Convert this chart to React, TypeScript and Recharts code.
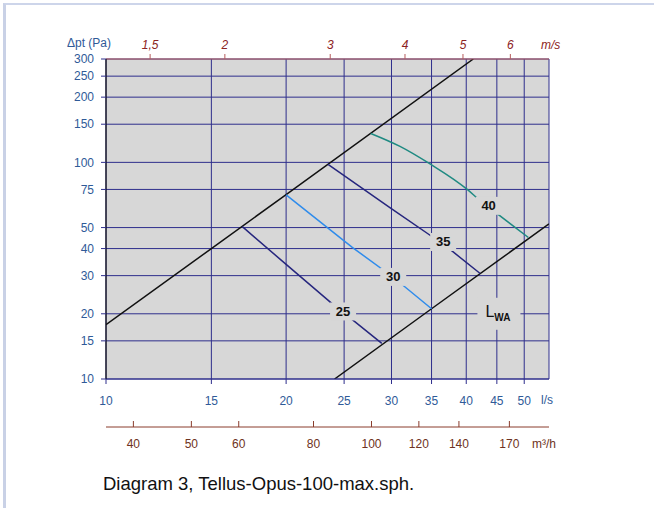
import {
  CartesianGrid,
  Label,
  Line,
  LineChart,
  ReferenceDot,
  XAxis,
  YAxis,
} from "recharts";

const FONT = '"Liberation Sans", Arial, Helvetica, sans-serif';
const PLOT_BG = "#d7d7d7";
const GRID = "#2e2e8c";
const BLUE_TEXT = "#2f5a98";
const RED_TEXT = "#8c2222";
const RED_LINE = "#b65c5c";
const BROWN = "#8a3c2c";
const BROWN_TEXT = "#6e3222";

// duct cross-section, l/s per m/s
const DUCT_AREA = 7.9;
// l/s -> m³/h
const M3H_PER_LS = 3.6;

const FLOW_TICKS = [10, 15, 20, 25, 30, 35, 40, 45, 50];
const PRESSURE_TICKS = [10, 15, 20, 30, 40, 50, 75, 100, 150, 200, 250, 300];
const VELOCITY_TICKS = [1.5, 2, 3, 4, 5, 6];
const VOLUME_TICKS = [40, 50, 60, 80, 100, 120, 140, 170];

// system curves, q in l/s and p in Pa
const systemHigh = [
  { q: 10, p: 17.8 },
  { q: 15, p: 40 },
  { q: 20, p: 71 },
  { q: 41.1, p: 300 },
];
const systemLow = [
  { q: 24.1, p: 10 },
  { q: 35, p: 21.1 },
  { q: 55, p: 52 },
];

// sound power levels L_WA, dB(A)
const lwa25 = [
  { q: 16.9, p: 50.5 },
  { q: 20, p: 33.8 },
  { q: 24, p: 22 },
  { q: 25.8, p: 18.8 },
  { q: 28.9, p: 14.6 },
];
const lwa30 = [
  { q: 20, p: 70.8 },
  { q: 25.8, p: 40.5 },
  { q: 30.2, p: 29.5 },
  { q: 35, p: 21.1 },
];
const lwa35 = [
  { q: 23.5, p: 98 },
  { q: 29.9, p: 61.5 },
  { q: 35, p: 45.6 },
  { q: 37.9, p: 38.9 },
  { q: 42.2, p: 30.7 },
];
const lwa40 = [
  { q: 27.7, p: 136 },
  { q: 31, p: 118.5 },
  { q: 34.8, p: 98.3 },
  { q: 40.2, p: 74.8 },
  { q: 42, p: 67.3 },
  { q: 45.1, p: 57.8 },
  { q: 50.8, p: 45 },
];

const curveTags = [
  { text: "25", q: 24.9, p: 20.5 },
  { text: "30", q: 30.2, p: 29.6 },
  { text: "35", q: 36.6, p: 42.9 },
  { text: "40", q: 43.6, p: 63 },
];

const CurveTag = ({ cx, cy, text }: any) => (
  <g>
    <rect x={cx - 13} y={cy - 9} width={26} height={18} fill={PLOT_BG} />
    <text
      x={cx}
      y={cy + 4.5}
      textAnchor="middle"
      fontFamily={FONT}
      fontSize={13}
      fontWeight="bold"
      fill="#111"
    >
      {text}
    </text>
  </g>
);

const LwaTag = ({ cx, cy }: any) => (
  <g>
    <rect x={cx - 20} y={cy - 16} width={43} height={32} fill={PLOT_BG} />
    <text x={cx - 12} y={cy + 3} fontFamily={FONT} fill="#111">
      <tspan fontSize={16}>L</tspan>
      <tspan fontSize={10} fontWeight="bold" dy={4}>
        WA
      </tspan>
    </text>
  </g>
);

const VolumeTick = ({ x, y, payload }: any) => (
  <g>
    <line x1={x} x2={x} y1={y} y2={y - 6} stroke={BROWN} />
    <text
      x={x}
      y={y + 21}
      textAnchor="middle"
      fontFamily={FONT}
      fontSize={12}
      fill={BROWN_TEXT}
    >
      {Math.round(payload.value * M3H_PER_LS)}
    </text>
  </g>
);

const unitText =
  (text: string, dx: number, dy: number, fill: string, italic = false) =>
  ({ viewBox }: any) => (
    <text
      x={viewBox.x + viewBox.width + dx}
      y={viewBox.y + dy}
      fontFamily={FONT}
      fontSize={12}
      fontStyle={italic ? "italic" : "normal"}
      fill={fill}
    >
      {text}
    </text>
  );

const formatVelocity = (q: number) =>
  String(Math.round((q / DUCT_AREA) * 10) / 10).replace(".", ",");

export default function App() {
  return (
    <div style={{ position: "absolute", left: 0, top: 0, width: 654, height: 508 }}>
      <div
        style={{
          position: "absolute",
          left: 3,
          top: 3,
          right: 0,
          bottom: 0,
          borderLeft: "3px solid #c9d1e6",
          borderTop: "2px solid #cdd5ea",
        }}
      />
      <LineChart
        width={654}
        height={508}
        margin={{ top: 29, right: 105, bottom: 41, left: 46 }}
        style={{ position: "absolute", left: 0, top: 0 }}
      >
        <CartesianGrid
          fill={PLOT_BG}
          fillOpacity={1}
          stroke={GRID}
          strokeWidth={1}
        />
        <XAxis
          dataKey="q"
          type="number"
          scale="log"
          domain={[10, 55]}
          allowDataOverflow
          ticks={FLOW_TICKS}
          interval={0}
          height={48}
          tickSize={5}
          tickMargin={12}
          axisLine={{ stroke: GRID }}
          tickLine={{ stroke: GRID }}
          tick={{ fill: BLUE_TEXT, fontSize: 12, fontFamily: FONT }}
        >
          <Label content={unitText("l/s", -8, 24.5, BLUE_TEXT)} />
        </XAxis>
        <XAxis
          xAxisId="m3h"
          dataKey="q"
          type="number"
          scale="log"
          domain={[10, 55]}
          allowDataOverflow
          ticks={VOLUME_TICKS.map((v) => v / M3H_PER_LS)}
          interval={0}
          height={40}
          tickSize={0}
          tickMargin={0}
          axisLine={{ stroke: BROWN }}
          tickLine={false}
          tick={<VolumeTick />}
        >
          <Label content={unitText("m³/h", -17, 21, BROWN_TEXT)} />
        </XAxis>
        <XAxis
          xAxisId="top"
          orientation="top"
          dataKey="q"
          type="number"
          scale="log"
          domain={[10, 55]}
          allowDataOverflow
          ticks={VELOCITY_TICKS.map((v) => v * DUCT_AREA)}
          tickFormatter={formatVelocity}
          interval={0}
          height={30}
          tickSize={5}
          tickMargin={5}
          axisLine={{ stroke: RED_LINE }}
          tickLine={{ stroke: RED_LINE }}
          tick={{ fill: RED_TEXT, fontSize: 12, fontStyle: "italic", fontFamily: FONT }}
        >
          <Label content={unitText("m/s", -8, 20, RED_TEXT, true)} />
        </XAxis>
        <YAxis
          type="number"
          scale="log"
          domain={[10, 300]}
          allowDataOverflow
          ticks={PRESSURE_TICKS}
          interval={0}
          width={60}
          tickSize={5}
          tickMargin={7}
          axisLine={{ stroke: "#151515", strokeWidth: 1.2 }}
          tickLine={{ stroke: GRID }}
          tick={{ fill: BLUE_TEXT, fontSize: 12, fontFamily: FONT }}
        >
          <Label
            content={({ viewBox }: any) => (
              <text
                x={viewBox.x + viewBox.width - 39}
                y={viewBox.y - 12}
                fontFamily={FONT}
                fontSize={12}
                fill={BLUE_TEXT}
              >
                Δpt (Pa)
              </text>
            )}
          />
        </YAxis>

        <Line data={systemHigh} dataKey="p" stroke="#111" strokeWidth={1.5} dot={false} activeDot={false} isAnimationActive={false} />
        <Line data={systemLow} dataKey="p" stroke="#111" strokeWidth={1.5} dot={false} activeDot={false} isAnimationActive={false} />
        <Line data={lwa25} dataKey="p" type="linear" stroke="#26267e" strokeWidth={1.5} dot={false} activeDot={false} isAnimationActive={false} />
        <Line data={lwa30} dataKey="p" type="linear" stroke="#2f8cec" strokeWidth={1.5} dot={false} activeDot={false} isAnimationActive={false} />
        <Line data={lwa35} dataKey="p" type="linear" stroke="#26267e" strokeWidth={1.5} dot={false} activeDot={false} isAnimationActive={false} />
        <Line data={lwa40} dataKey="p" type="monotone" stroke="#1f8a82" strokeWidth={1.5} dot={false} activeDot={false} isAnimationActive={false} />

        {curveTags.map((t) => (
          <ReferenceDot
            key={t.text}
            x={t.q}
            y={t.p}
            r={0}
            shape={(props: any) => <CurveTag {...props} text={t.text} />}
          />
        ))}
        <ReferenceDot x={45.1} y={20} r={0} shape={(props: any) => <LwaTag {...props} />} />
      </LineChart>
      <div
        style={{
          position: "absolute",
          left: 103,
          top: 474,
          fontFamily: FONT,
          fontSize: 18.5,
          lineHeight: "20px",
          color: "#111",
          whiteSpace: "nowrap",
        }}
      >
        Diagram 3, Tellus-Opus-100-max.sph.
      </div>
    </div>
  );
}
